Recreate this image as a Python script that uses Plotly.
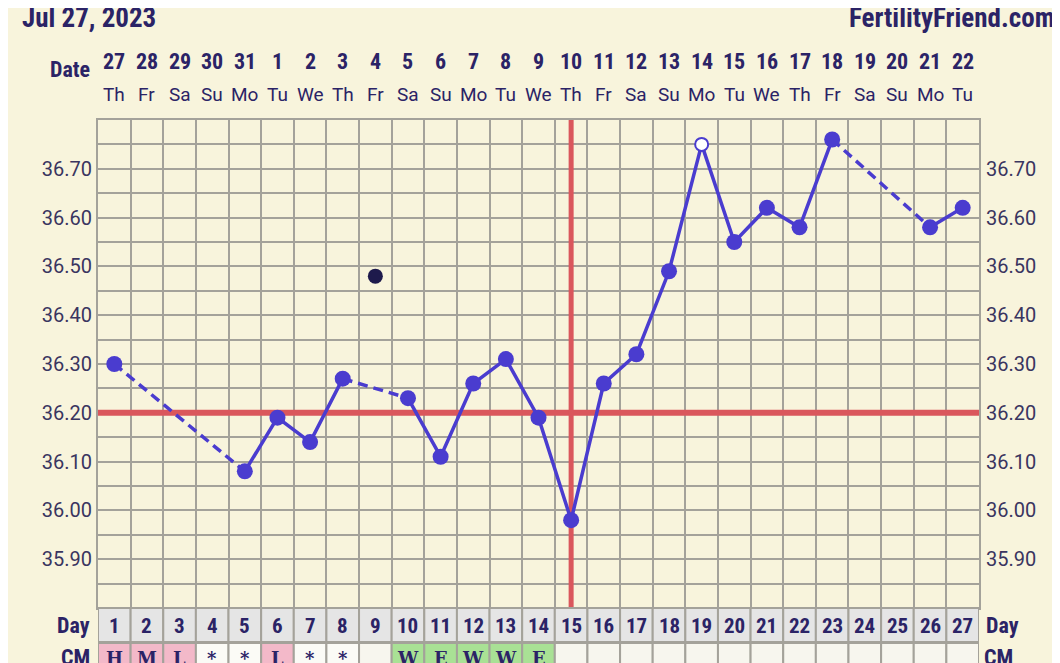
import plotly.graph_objects as go

# ---------------- data ----------------
days = list(range(1, 28))
dates = ["27", "28", "29", "30", "31", "1", "2", "3", "4", "5", "6", "7", "8", "9",
         "10", "11", "12", "13", "14", "15", "16", "17", "18", "19", "20", "21", "22"]
weekdays = ["Th", "Fr", "Sa", "Su", "Mo", "Tu", "We", "Th", "Fr", "Sa", "Su", "Mo", "Tu", "We",
            "Th", "Fr", "Sa", "Su", "Mo", "Tu", "We", "Th", "Fr", "Sa", "Su", "Mo", "Tu"]
temps = [36.30, None, None, None, 36.08, 36.19, 36.14, 36.27, None, 36.23, 36.11, 36.26, 36.31,
         36.19, 35.98, 36.26, 36.32, 36.49, 36.75, 36.55, 36.62, 36.58, 36.76, None, None, 36.58, 36.62]
open_days = [19]
discarded_days = [9]
discarded_temps = [36.48]
cm = ["H", "M", "L", "*", "*", "L", "*", "*", "", "W", "E", "W", "W", "E",
      "", "", "", "", "", "", "", "", "", "", "", "", ""]
coverline = 36.20
ovulation_day = 15
ytick_vals = [35.90, 36.00, 36.10, 36.20, 36.30, 36.40, 36.50, 36.60, 36.70]
ytick_text = [f"{v:.2f}" for v in ytick_vals]
y_range = [35.80, 36.80]
x_range = [0.5, 27.5]
title_left = "Jul 27, 2023"
title_right = "FertilityFriend.com"

# ---------------- layout geometry (page offset by 8px body margin) ----------------
OFF = 8
W, H = 1060 - OFF, 663 - OFF
ML, MR, MT, MB = 98 - OFF, 81, 120 - OFF, 55
PW, PH = W - ML - MR, H - MT - MB
CREAM = "#F8F4DC"
GRID = "#A4A29A"
LINE = "#4A3CCF"
NAVY = "#2B2366"
TICK = "#3A3560"
RED = "#DA575C"
NARROW = "Liberation Sans Narrow, Roboto Condensed, DejaVu Sans Condensed, Roboto, sans-serif"
REG = "Roboto, Liberation Sans, sans-serif"
SERIF = "DejaVu Serif, Liberation Serif, serif"


def py(ypix):  # reference page pixel -> paper y
    return (H - MB - (ypix - OFF)) / PH


def pxx(xpix):  # reference page pixel -> paper x
    return (xpix - OFF - ML) / PW


fig = go.Figure()

# coverline and ovulation line (drawn as traces so they sit above the grid, below the data)
fig.add_trace(go.Scatter(x=x_range, y=[coverline, coverline], mode="lines",
                         line=dict(color=RED, width=6), hoverinfo="skip", showlegend=False))
fig.add_trace(go.Scatter(x=[ovulation_day, ovulation_day], y=[y_range[0], y_range[1] + 0.004],
                         mode="lines", cliponaxis=False,
                         line=dict(color=RED, width=5), hoverinfo="skip", showlegend=False))

# solid segments (consecutive days)
fig.add_trace(go.Scatter(x=days, y=temps, mode="lines", connectgaps=False,
                         line=dict(color=LINE, width=3.5), hoverinfo="skip", showlegend=False))

# dashed segments bridging missing days
present = [(d, t) for d, t in zip(days, temps) if t is not None]
dx, dy = [], []
for (d0, t0), (d1, t1) in zip(present[:-1], present[1:]):
    if d1 - d0 > 1:
        dx += [d0, d1, None]
        dy += [t0, t1, None]
fig.add_trace(go.Scatter(x=dx, y=dy, mode="lines",
                         line=dict(color=LINE, width=3.5, dash="10px,6px"),
                         hoverinfo="skip", showlegend=False))

# filled markers
fx = [d for d, t in present if d not in open_days]
fy = [t for d, t in present if d not in open_days]
fig.add_trace(go.Scatter(x=fx, y=fy, mode="markers",
                         marker=dict(color=LINE, size=16, line=dict(width=0)),
                         showlegend=False))
# open markers
ox = [d for d, t in present if d in open_days]
oy = [t for d, t in present if d in open_days]
fig.add_trace(go.Scatter(x=ox, y=oy, mode="markers",
                         marker=dict(color="white", size=13, line=dict(color=LINE, width=2)),
                         showlegend=False))
# discarded temps
fig.add_trace(go.Scatter(x=discarded_days, y=discarded_temps, mode="markers",
                         marker=dict(color="#1E1A4C", size=15), showlegend=False))
# invisible trace for right axis
fig.add_trace(go.Scatter(x=[days[0]], y=[ytick_vals[0]], yaxis="y2", mode="markers",
                         marker=dict(opacity=0), hoverinfo="skip", showlegend=False))

shapes = []
CM_COLORS = {"H": "#F3B9C9", "M": "#F3B9C9", "L": "#F3B9C9", "*": "#FBFBF6",
             "W": "#A9E195", "E": "#A9E195", "": "#F7F6EE"}

annotations = []
for d, dt, wd, c in zip(days, dates, weekdays, cm):
    shapes.append(dict(type="rect", xref="x", yref="paper", x0=d - 0.5, x1=d + 0.5,
                       y0=py(642), y1=py(608), fillcolor="#E5E5E5",
                       line=dict(color=GRID, width=2), layer="above"))
    shapes.append(dict(type="rect", xref="x", yref="paper", x0=d - 0.5, x1=d + 0.5,
                       y0=py(700), y1=py(643), fillcolor=CM_COLORS[c],
                       line=dict(color=GRID, width=2), layer="above"))
    annotations.append(dict(x=d, y=py(626), xref="x", yref="paper", text=f"<b>{d}</b>",
                            xanchor="center", yanchor="middle", showarrow=False,
                            font=dict(family=NARROW, size=21, color=NAVY)))
    if c:
        annotations.append(dict(x=d, y=py(658), xref="x", yref="paper", text=f"<b>{c}</b>",
                                xanchor="center", yanchor="middle", showarrow=False,
                                font=dict(family=SERIF, size=18, color=NAVY)))
    annotations.append(dict(x=d, y=py(62), xref="x", yref="paper", text=f"<b>{dt}</b>",
                            xanchor="center", yanchor="middle", showarrow=False,
                            font=dict(family=NARROW, size=22, color=NAVY)))
    annotations.append(dict(x=d, y=py(94), xref="x", yref="paper", text=wd,
                            xanchor="center", yanchor="middle", showarrow=False,
                            font=dict(family=REG, size=19, color=NAVY)))

side_labels = [
    (title_left, 20, 18, "left", 27),
    (title_right, 1057, 18, "right", 27),
    ("Date", 92, 70, "right", 22),
    ("Day", 92, 625, "right", 22),
    ("Day", 984, 625, "left", 22),
    ("CM", 92, 657, "right", 22),
    ("CM", 982, 657, "left", 22),
]
for txt, xp, yp, anc, sz in side_labels:
    annotations.append(dict(x=pxx(xp), y=py(yp), xref="paper", yref="paper",
                            text=f"<b>{txt}</b>", xanchor=anc, yanchor="middle",
                            showarrow=False, font=dict(family=NARROW, size=sz, color=NAVY)))

fig.update_layout(
    width=W, height=H,
    margin=dict(l=ML, r=MR, t=MT, b=MB, pad=0),
    paper_bgcolor=CREAM, plot_bgcolor=CREAM,
    showlegend=False,
    xaxis=dict(range=x_range, tickmode="array", tickvals=[d - 0.5 for d in days] + [x_range[1]],
               showticklabels=False, showgrid=True, gridcolor=GRID, gridwidth=2,
               zeroline=False, showline=True, mirror=True, linecolor=GRID, linewidth=2,
               ticks="", fixedrange=True),
    yaxis=dict(range=y_range, tickmode="array", tickvals=ytick_vals, ticktext=ytick_text,
               showgrid=True, gridcolor=GRID, gridwidth=2, zeroline=False,
               showline=True, mirror=True, linecolor=GRID, linewidth=2, ticks="", ticklen=0,
               tickfont=dict(family=REG, size=20, color=TICK),
               minor=dict(tickmode="linear", tick0=35.80, dtick=0.05, showgrid=True,
                          gridcolor=GRID, gridwidth=2, ticks="", ticklen=0),
               fixedrange=True),
    yaxis2=dict(range=y_range, overlaying="y", side="right", tickmode="array",
                tickvals=ytick_vals, ticktext=ytick_text, showgrid=False, zeroline=False,
                ticks="", ticklen=0, ticklabelstandoff=6,
                tickfont=dict(family=REG, size=20, color=TICK), fixedrange=True),
    shapes=shapes,
    annotations=annotations,
)

fig.write_html("out.html")
